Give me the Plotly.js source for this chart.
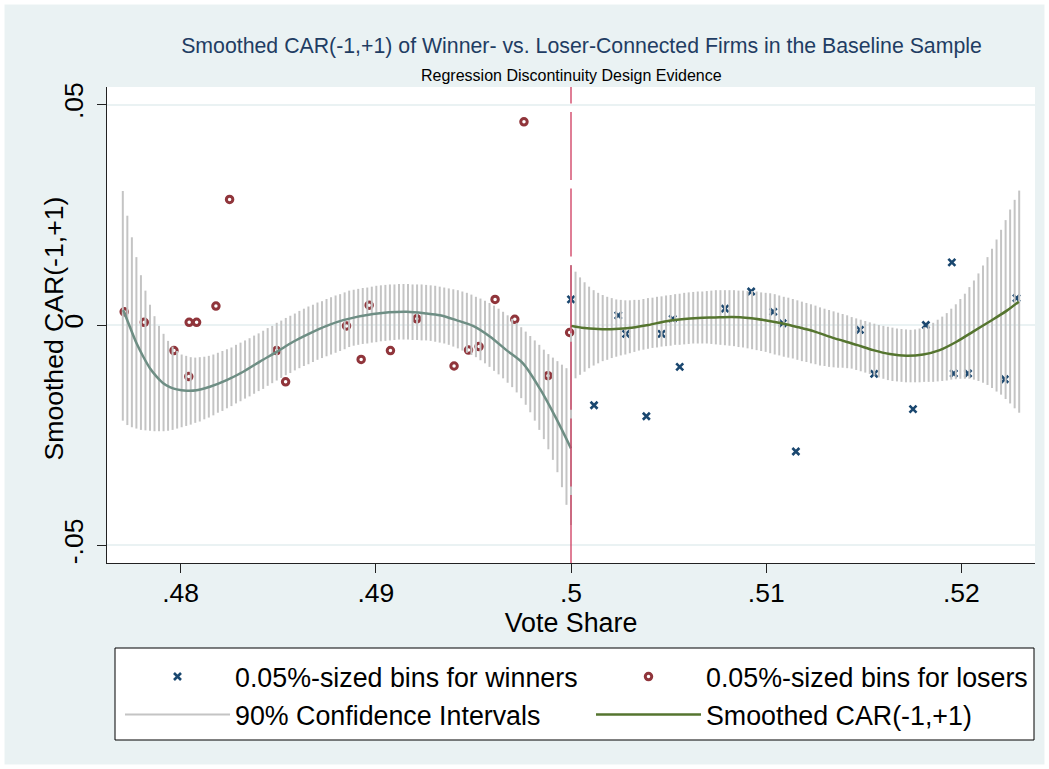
<!DOCTYPE html>
<html>
<head>
<meta charset="utf-8">
<script src="https://cdn.plot.ly/plotly-3.0.1.min.js"></script>
<style>html,body{margin:0;padding:0;background:#fff;}#chart{width:1049px;height:769px;}</style>
</head>
<body>
<div id="chart"></div>
<script>
// ---------------- data ----------------
// 0.05%-sized bins for losers (vote share, CAR)
var loserX = [0.47711,0.47814,0.47966,0.48042,0.48044,0.48082,0.48181,0.48251,0.48492,0.48538,0.48850,0.48925,0.48966,0.49075,0.49210,0.49401,0.49475,0.49529,0.49611,0.49712,0.49759,0.49882,0.49993];
var loserY = [0.0030,0.0006,-0.0058,-0.0117,0.0006,0.0006,0.0043,0.0285,-0.0058,-0.0129,-0.0002,-0.0078,0.0045,-0.0058,0.0014,-0.0093,-0.0057,-0.0049,0.0058,0.0013,0.0461,-0.0115,-0.0017];
// 0.05%-sized bins for winners
var winnerX = [0.50000,0.50118,0.50242,0.50282,0.50386,0.50464,0.50521,0.50557,0.50789,0.50923,0.51036,0.51084,0.51152,0.51480,0.51553,0.51752,0.51818,0.51951,0.51961,0.52034,0.52222,0.52282];
var winnerY = [0.0058,-0.0182,0.0022,-0.0020,-0.0207,-0.0020,0.0014,-0.0095,0.0037,0.0076,0.0030,0.0004,-0.0287,-0.0011,-0.0111,-0.0191,0.0000,0.0142,-0.0110,-0.0110,-0.0123,0.0061];

// 90% confidence interval, evaluated on 100 grid points on each side of the cutoff
var ciGridN = 100;
var ciLeftStart = 0.47704, ciLeftEnd = 0.50000;
var ciRightStart = 0.50000, ciRightEnd = 0.52296;
var ciLeftUpper = [0.0304,0.0248,0.0199,0.0154,0.0113,0.0078,0.0046,0.0020,-0.0002,-0.0020,
 -0.0036,-0.0049,-0.0059,-0.0067,-0.0070,-0.0073,-0.0074,-0.0073,-0.0072,-0.0070,
 -0.0067,-0.0063,-0.0059,-0.0055,-0.0051,-0.0045,-0.0040,-0.0035,-0.0030,-0.0024,
 -0.0019,-0.0013,-0.0007,-0.0002,0.0005,0.0010,0.0016,0.0021,0.0026,0.0032,
 0.0037,0.0042,0.0046,0.0051,0.0054,0.0059,0.0063,0.0067,0.0070,0.0074,
 0.0078,0.0080,0.0082,0.0084,0.0085,0.0087,0.0089,0.0090,0.0091,0.0092,
 0.0092,0.0093,0.0093,0.0093,0.0092,0.0092,0.0092,0.0091,0.0090,0.0089,
 0.0087,0.0085,0.0083,0.0081,0.0079,0.0076,0.0073,0.0069,0.0064,0.0060,
 0.0055,0.0050,0.0044,0.0037,0.0030,0.0022,0.0014,0.0005,-0.0005,-0.0015,
 -0.0025,-0.0035,-0.0045,-0.0056,-0.0066,-0.0074,-0.0082,-0.0090,-0.0098,-0.0102];
var ciLeftLower = [-0.0217,-0.0227,-0.0232,-0.0235,-0.0238,-0.0239,-0.0240,-0.0241,-0.0241,-0.0241,
 -0.0240,-0.0238,-0.0235,-0.0232,-0.0229,-0.0226,-0.0222,-0.0219,-0.0214,-0.0210,
 -0.0205,-0.0199,-0.0195,-0.0189,-0.0184,-0.0178,-0.0173,-0.0167,-0.0162,-0.0156,
 -0.0150,-0.0145,-0.0138,-0.0132,-0.0126,-0.0120,-0.0114,-0.0109,-0.0103,-0.0098,
 -0.0093,-0.0089,-0.0084,-0.0079,-0.0075,-0.0071,-0.0067,-0.0063,-0.0059,-0.0055,
 -0.0050,-0.0047,-0.0045,-0.0043,-0.0042,-0.0040,-0.0039,-0.0037,-0.0036,-0.0035,
 -0.0034,-0.0033,-0.0033,-0.0033,-0.0034,-0.0034,-0.0035,-0.0035,-0.0036,-0.0038,
 -0.0040,-0.0042,-0.0045,-0.0049,-0.0053,-0.0058,-0.0063,-0.0068,-0.0073,-0.0080,
 -0.0087,-0.0095,-0.0104,-0.0112,-0.0121,-0.0131,-0.0141,-0.0153,-0.0166,-0.0181,
 -0.0198,-0.0217,-0.0238,-0.0259,-0.0282,-0.0306,-0.0334,-0.0368,-0.0408,-0.0454];
var ciRightUpper = [0.0136,0.0121,0.0108,0.0097,0.0087,0.0079,0.0073,0.0068,0.0064,0.0061,
 0.0058,0.0057,0.0056,0.0056,0.0057,0.0057,0.0059,0.0061,0.0062,0.0064,
 0.0065,0.0067,0.0068,0.0070,0.0071,0.0073,0.0074,0.0075,0.0076,0.0076,
 0.0077,0.0078,0.0079,0.0079,0.0079,0.0079,0.0079,0.0078,0.0078,0.0077,
 0.0077,0.0076,0.0074,0.0073,0.0072,0.0070,0.0067,0.0064,0.0062,0.0059,
 0.0056,0.0053,0.0050,0.0047,0.0044,0.0040,0.0037,0.0034,0.0031,0.0028,
 0.0025,0.0022,0.0018,0.0015,0.0012,0.0009,0.0006,0.0003,0.0000,-0.0002,
 -0.0004,-0.0006,-0.0008,-0.0009,-0.0010,-0.0011,-0.0010,-0.0008,-0.0005,-0.0001,
 0.0005,0.0012,0.0019,0.0027,0.0037,0.0047,0.0059,0.0071,0.0086,0.0101,
 0.0117,0.0135,0.0154,0.0173,0.0194,0.0216,0.0238,0.0262,0.0284,0.0305];
var ciRightLower = [-0.0129,-0.0121,-0.0113,-0.0106,-0.0098,-0.0092,-0.0087,-0.0082,-0.0079,-0.0075,
 -0.0072,-0.0069,-0.0067,-0.0064,-0.0061,-0.0058,-0.0056,-0.0054,-0.0052,-0.0051,
 -0.0049,-0.0048,-0.0047,-0.0045,-0.0045,-0.0044,-0.0043,-0.0042,-0.0042,-0.0042,
 -0.0042,-0.0043,-0.0044,-0.0045,-0.0046,-0.0047,-0.0048,-0.0050,-0.0051,-0.0053,
 -0.0055,-0.0057,-0.0059,-0.0061,-0.0064,-0.0067,-0.0069,-0.0072,-0.0074,-0.0076,
 -0.0079,-0.0082,-0.0084,-0.0087,-0.0089,-0.0092,-0.0093,-0.0095,-0.0096,-0.0097,
 -0.0097,-0.0098,-0.0099,-0.0102,-0.0105,-0.0108,-0.0111,-0.0115,-0.0119,-0.0122,
 -0.0125,-0.0127,-0.0128,-0.0129,-0.0130,-0.0130,-0.0130,-0.0130,-0.0129,-0.0129,
 -0.0129,-0.0128,-0.0127,-0.0126,-0.0124,-0.0123,-0.0122,-0.0122,-0.0122,-0.0124,
 -0.0127,-0.0131,-0.0136,-0.0143,-0.0151,-0.0158,-0.0168,-0.0178,-0.0189,-0.0199];

// smoothed CAR(-1,+1), left (losers) and right (winners) of the cutoff
var smoothLeftX = [0.47706,0.47740,0.47775,0.47809,0.47843,0.47877,0.47911,0.47945,0.47980,0.48031,0.48082,0.48150,0.48236,0.48321,0.48406,0.48492,0.48577,0.48662,0.48748,0.48833,0.48986,0.49157,0.49260,0.49328,0.49413,0.49498,0.49584,0.49669,0.49754,0.49840,0.49924,0.50000];
var smoothLeftY = [0.0034,-0.0004,-0.0042,-0.0072,-0.0098,-0.0117,-0.0132,-0.0141,-0.0146,-0.0149,-0.0148,-0.0140,-0.0125,-0.0106,-0.0083,-0.0061,-0.0038,-0.0019,-0.0002,0.0011,0.0025,0.0030,0.0026,0.0022,0.0011,-0.0002,-0.0026,-0.0057,-0.0087,-0.0144,-0.0212,-0.0280];
var smoothRightX = [0.50000,0.50055,0.50140,0.50225,0.50311,0.50396,0.50481,0.50567,0.50652,0.50737,0.50823,0.50908,0.50993,0.51079,0.51164,0.51249,0.51335,0.51463,0.51548,0.51633,0.51719,0.51804,0.51889,0.51975,0.52060,0.52145,0.52231,0.52294];
var smoothRightY = [-0.0002,-0.0006,-0.0009,-0.0009,-0.0006,0.0000,0.0008,0.0013,0.0016,0.0017,0.0018,0.0016,0.0011,0.0004,-0.0005,-0.0015,-0.0028,-0.0045,-0.0057,-0.0066,-0.0070,-0.0067,-0.0057,-0.0038,-0.0015,0.0008,0.0032,0.0053];

var xTickVals = [0.48,0.49,0.50,0.51,0.52];
var xTickText = ['.48','.49','.5','.51','.52'];
var yTickVals = [-0.05,0,0.05];
var yTickText = ['-.05','0','.05'];
var cutoff = 0.5;

var titleText = 'Smoothed CAR(-1,+1) of Winner- vs. Loser-Connected Firms in the Baseline Sample';
var subtitleText = 'Regression Discontinuity Design Evidence';
var xTitle = 'Vote Share';
var yTitle = 'Smoothed CAR(-1,+1)';
var legendNames = ['0.05%-sized bins for winners','0.05%-sized bins for losers','90% Confidence Intervals','Smoothed CAR(-1,+1)'];

// ---------------- build traces ----------------
function grid(a, b, n){ var g=[]; for(var i=0;i<n;i++){ g.push(a + (b-a)*i/(n-1)); } return g; }
var ciX = [], ciY = [];
function addSpikes(xs, lo, hi){
  for(var i=0;i<xs.length;i++){ ciX.push(xs[i], xs[i], null); ciY.push(lo[i], hi[i], null); }
}
addSpikes(grid(ciLeftStart, ciLeftEnd, ciGridN), ciLeftLower, ciLeftUpper);
addSpikes(grid(ciRightStart, ciRightEnd, ciGridN), ciRightLower, ciRightUpper);

var FONT = 'Liberation Sans, Arial, Helvetica, sans-serif';
var navy = '#1A476F', cranberry = '#90353B', teal = '#6E8E84', forest = '#55752F', ciGray = '#C4C4C4';

var traces = [
  {type:'scatter', mode:'markers', x:winnerX, y:winnerY, name:legendNames[0], legend:'legend',
   marker:{symbol:'x-thin-open', size:7, color:navy, line:{color:navy, width:2.6}}},
  {type:'scatter', mode:'markers', x:loserX, y:loserY, name:legendNames[1], legend:'legend2',
   marker:{symbol:'circle-open', size:6.5, color:cranberry, line:{color:cranberry, width:3}}},
  {type:'scatter', mode:'lines', x:ciX, y:ciY, name:legendNames[2], legend:'legend3', connectgaps:false,
   line:{color:ciGray, width:2}},
  {type:'scatter', mode:'lines', x:smoothLeftX, y:smoothLeftY, showlegend:false,
   line:{color:teal, width:2.5, shape:'spline', smoothing:0.8}},
  {type:'scatter', mode:'lines', x:smoothRightX, y:smoothRightY, name:legendNames[3], legend:'legend4',
   line:{color:forest, width:2.5, shape:'spline', smoothing:0.8}}
];

// plot area in pixels: x 107..1035, y 87..563
var L=107, R=14, T=87, B=206, W=1049, H=769, PW=W-L-R, PH=H-T-B;
function px(x){ return (x-L)/PW; }
function py(y){ return (H-B-y)/PH; }

function legendAt(left, top){
  return {orientation:'v', x:px(left), xanchor:'left', y:py(top), yanchor:'top',
          itemwidth:105, bgcolor:'rgba(0,0,0,0)', borderwidth:0,
          font:{family:FONT, size:26.8, color:'#000'}, itemclick:false, itemdoubleclick:false};
}

var layout = {
  width:W, height:H, autosize:false,
  margin:{l:L, r:R, t:T, b:B, pad:0, autoexpand:false},
  paper_bgcolor:'#EAF2F3', plot_bgcolor:'#FFFFFF',
  font:{family:FONT, color:'#000', size:26},
  showlegend:true,
  title:{text:titleText, font:{family:FONT, size:21.3, color:'#1F3D63'},
         xref:'paper', x:px(581.5), xanchor:'center', yref:'container', y:1-46/H, yanchor:'middle'},
  xaxis:{range:[0.47623,0.52377], tickvals:xTickVals, ticktext:xTickText, automargin:false,
         showline:true, linecolor:'#222', linewidth:1, ticks:'outside', ticklen:9, tickcolor:'#222', tickwidth:1,
         ticklabelstandoff:-3,
         showgrid:false, zeroline:false, tickfont:{size:26.5, color:'#000'},
         title:{text:xTitle, font:{size:26.8, color:'#000'}, standoff:0}},
  yaxis:{range:[-0.054,0.054], tickvals:yTickVals, ticktext:yTickText, tickangle:-90, automargin:false,
         showline:true, linecolor:'#222', linewidth:1, ticks:'outside', ticklen:9, tickcolor:'#222', tickwidth:1,
         ticklabelstandoff:3,
         showgrid:true, gridcolor:'#EAF2F3', gridwidth:2, zeroline:false, tickfont:{size:26.5, color:'#000'}},
  legend:legendAt(120, 652.6),
  legend2:legendAt(591, 652.6),
  legend3:legendAt(120, 690.6),
  legend4:legendAt(591, 690.6),
  annotations:[
    {text:subtitleText, xref:'paper', yref:'paper', x:px(571), y:py(75), xanchor:'center', yanchor:'middle',
     showarrow:false, font:{family:FONT, size:16, color:'#000'}},
    // y-axis title
    {text:yTitle, xref:'paper', yref:'paper', x:px(53.5), y:py(329), xanchor:'center', yanchor:'middle',
     textangle:-90, showarrow:false, font:{family:FONT, size:26.6, color:'#000'}}
  ],
  shapes:[
    // legend frame
    {type:'rect', xref:'paper', yref:'paper', x0:px(115), x1:px(1034), y0:py(740), y1:py(648),
     fillcolor:'#FFFFFF', line:{color:'#000', width:1}, layer:'below'},
    // outer white frame of the graph region
    {type:'rect', xref:'paper', yref:'paper', x0:px(0), x1:px(W), y0:py(H), y1:py(0),
     fillcolor:'rgba(0,0,0,0)', line:{color:'#FFFFFF', width:9}, layer:'above'},
    // cutoff line
    {type:'line', xref:'x', yref:'y', x0:cutoff, x1:cutoff, y0:-0.054, y1:0.054,
     line:{color:'#CF3A5E', width:1.3, dash:'68px,8.6px'}, layer:'above'}
  ]
};

Plotly.newPlot('chart', traces, layout, {staticPlot:true, displayModeBar:false});
</script>
</body>
</html>
